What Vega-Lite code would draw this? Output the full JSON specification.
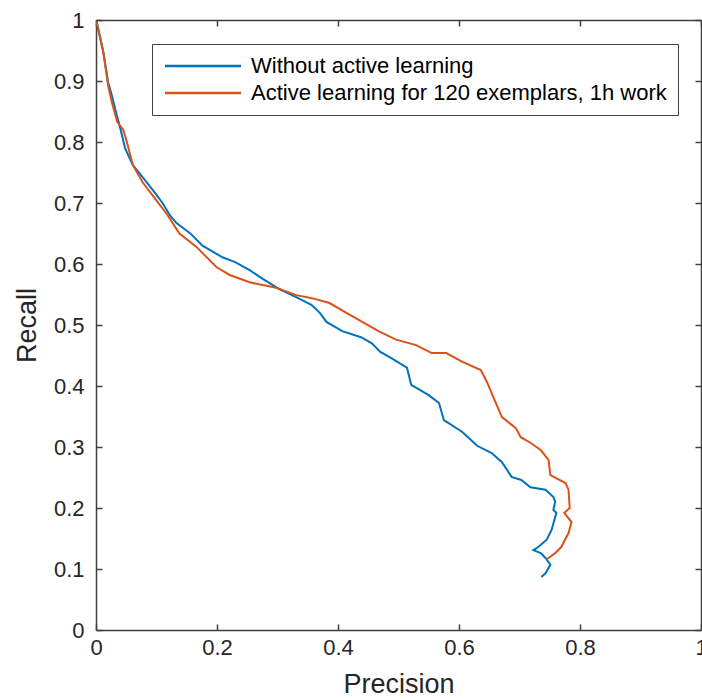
{
  "$schema": "https://vega.github.io/schema/vega-lite/v6.json",
  "width": 605,
  "height": 610,
  "autosize": "none",
  "padding": {"left": 96, "top": 20, "right": 1, "bottom": 69},
  "background": "white",
  "config": {"view": {"stroke": null}, "font": "Liberation Sans"},
  "data": {"values": [
    {"series": "Without active learning", "i": 1, "precision": 0.001, "recall": 0.997},
    {"series": "Without active learning", "i": 2, "precision": 0.012, "recall": 0.948},
    {"series": "Without active learning", "i": 3, "precision": 0.020, "recall": 0.898},
    {"series": "Without active learning", "i": 4, "precision": 0.026, "recall": 0.877},
    {"series": "Without active learning", "i": 5, "precision": 0.033, "recall": 0.849},
    {"series": "Without active learning", "i": 6, "precision": 0.040, "recall": 0.823},
    {"series": "Without active learning", "i": 7, "precision": 0.048, "recall": 0.790},
    {"series": "Without active learning", "i": 8, "precision": 0.061, "recall": 0.762},
    {"series": "Without active learning", "i": 9, "precision": 0.075, "recall": 0.745},
    {"series": "Without active learning", "i": 10, "precision": 0.094, "recall": 0.721},
    {"series": "Without active learning", "i": 11, "precision": 0.110, "recall": 0.700},
    {"series": "Without active learning", "i": 12, "precision": 0.122, "recall": 0.680},
    {"series": "Without active learning", "i": 13, "precision": 0.133, "recall": 0.667},
    {"series": "Without active learning", "i": 14, "precision": 0.155, "recall": 0.651},
    {"series": "Without active learning", "i": 15, "precision": 0.176, "recall": 0.630},
    {"series": "Without active learning", "i": 16, "precision": 0.209, "recall": 0.611},
    {"series": "Without active learning", "i": 17, "precision": 0.230, "recall": 0.603},
    {"series": "Without active learning", "i": 18, "precision": 0.254, "recall": 0.590},
    {"series": "Without active learning", "i": 19, "precision": 0.275, "recall": 0.576},
    {"series": "Without active learning", "i": 20, "precision": 0.303, "recall": 0.559},
    {"series": "Without active learning", "i": 21, "precision": 0.330, "recall": 0.546},
    {"series": "Without active learning", "i": 22, "precision": 0.356, "recall": 0.533},
    {"series": "Without active learning", "i": 23, "precision": 0.370, "recall": 0.520},
    {"series": "Without active learning", "i": 24, "precision": 0.381, "recall": 0.505},
    {"series": "Without active learning", "i": 25, "precision": 0.407, "recall": 0.490},
    {"series": "Without active learning", "i": 26, "precision": 0.438, "recall": 0.480},
    {"series": "Without active learning", "i": 27, "precision": 0.456, "recall": 0.470},
    {"series": "Without active learning", "i": 28, "precision": 0.470, "recall": 0.456},
    {"series": "Without active learning", "i": 29, "precision": 0.484, "recall": 0.448},
    {"series": "Without active learning", "i": 30, "precision": 0.514, "recall": 0.430},
    {"series": "Without active learning", "i": 31, "precision": 0.521, "recall": 0.402},
    {"series": "Without active learning", "i": 32, "precision": 0.550, "recall": 0.385},
    {"series": "Without active learning", "i": 33, "precision": 0.567, "recall": 0.372},
    {"series": "Without active learning", "i": 34, "precision": 0.575, "recall": 0.344},
    {"series": "Without active learning", "i": 35, "precision": 0.605, "recall": 0.325},
    {"series": "Without active learning", "i": 36, "precision": 0.630, "recall": 0.302},
    {"series": "Without active learning", "i": 37, "precision": 0.654, "recall": 0.290},
    {"series": "Without active learning", "i": 38, "precision": 0.671, "recall": 0.275},
    {"series": "Without active learning", "i": 39, "precision": 0.687, "recall": 0.251},
    {"series": "Without active learning", "i": 40, "precision": 0.703, "recall": 0.246},
    {"series": "Without active learning", "i": 41, "precision": 0.718, "recall": 0.234},
    {"series": "Without active learning", "i": 42, "precision": 0.743, "recall": 0.230},
    {"series": "Without active learning", "i": 43, "precision": 0.756, "recall": 0.218},
    {"series": "Without active learning", "i": 44, "precision": 0.759, "recall": 0.210},
    {"series": "Without active learning", "i": 45, "precision": 0.756, "recall": 0.197},
    {"series": "Without active learning", "i": 46, "precision": 0.761, "recall": 0.192},
    {"series": "Without active learning", "i": 47, "precision": 0.753, "recall": 0.164},
    {"series": "Without active learning", "i": 48, "precision": 0.745, "recall": 0.148},
    {"series": "Without active learning", "i": 49, "precision": 0.731, "recall": 0.136},
    {"series": "Without active learning", "i": 50, "precision": 0.723, "recall": 0.131},
    {"series": "Without active learning", "i": 51, "precision": 0.735, "recall": 0.126},
    {"series": "Without active learning", "i": 52, "precision": 0.743, "recall": 0.118},
    {"series": "Without active learning", "i": 53, "precision": 0.751, "recall": 0.107},
    {"series": "Without active learning", "i": 54, "precision": 0.743, "recall": 0.093},
    {"series": "Without active learning", "i": 55, "precision": 0.736, "recall": 0.087},
    {"series": "Active learning for 120 exemplars, 1h work", "i": 1, "precision": 0.001, "recall": 0.997},
    {"series": "Active learning for 120 exemplars, 1h work", "i": 2, "precision": 0.012, "recall": 0.948},
    {"series": "Active learning for 120 exemplars, 1h work", "i": 3, "precision": 0.020, "recall": 0.893},
    {"series": "Active learning for 120 exemplars, 1h work", "i": 4, "precision": 0.026, "recall": 0.866},
    {"series": "Active learning for 120 exemplars, 1h work", "i": 5, "precision": 0.035, "recall": 0.833},
    {"series": "Active learning for 120 exemplars, 1h work", "i": 6, "precision": 0.045, "recall": 0.820},
    {"series": "Active learning for 120 exemplars, 1h work", "i": 7, "precision": 0.051, "recall": 0.800},
    {"series": "Active learning for 120 exemplars, 1h work", "i": 8, "precision": 0.061, "recall": 0.762},
    {"series": "Active learning for 120 exemplars, 1h work", "i": 9, "precision": 0.077, "recall": 0.734},
    {"series": "Active learning for 120 exemplars, 1h work", "i": 10, "precision": 0.097, "recall": 0.708},
    {"series": "Active learning for 120 exemplars, 1h work", "i": 11, "precision": 0.117, "recall": 0.682},
    {"series": "Active learning for 120 exemplars, 1h work", "i": 12, "precision": 0.138, "recall": 0.650},
    {"series": "Active learning for 120 exemplars, 1h work", "i": 13, "precision": 0.166, "recall": 0.628},
    {"series": "Active learning for 120 exemplars, 1h work", "i": 14, "precision": 0.199, "recall": 0.595},
    {"series": "Active learning for 120 exemplars, 1h work", "i": 15, "precision": 0.221, "recall": 0.582},
    {"series": "Active learning for 120 exemplars, 1h work", "i": 16, "precision": 0.254, "recall": 0.570},
    {"series": "Active learning for 120 exemplars, 1h work", "i": 17, "precision": 0.298, "recall": 0.561},
    {"series": "Active learning for 120 exemplars, 1h work", "i": 18, "precision": 0.331, "recall": 0.549},
    {"series": "Active learning for 120 exemplars, 1h work", "i": 19, "precision": 0.357, "recall": 0.544},
    {"series": "Active learning for 120 exemplars, 1h work", "i": 20, "precision": 0.386, "recall": 0.536},
    {"series": "Active learning for 120 exemplars, 1h work", "i": 21, "precision": 0.414, "recall": 0.520},
    {"series": "Active learning for 120 exemplars, 1h work", "i": 22, "precision": 0.440, "recall": 0.505},
    {"series": "Active learning for 120 exemplars, 1h work", "i": 23, "precision": 0.467, "recall": 0.490},
    {"series": "Active learning for 120 exemplars, 1h work", "i": 24, "precision": 0.496, "recall": 0.476},
    {"series": "Active learning for 120 exemplars, 1h work", "i": 25, "precision": 0.529, "recall": 0.467},
    {"series": "Active learning for 120 exemplars, 1h work", "i": 26, "precision": 0.555, "recall": 0.454},
    {"series": "Active learning for 120 exemplars, 1h work", "i": 27, "precision": 0.579, "recall": 0.454},
    {"series": "Active learning for 120 exemplars, 1h work", "i": 28, "precision": 0.605, "recall": 0.440},
    {"series": "Active learning for 120 exemplars, 1h work", "i": 29, "precision": 0.636, "recall": 0.426},
    {"series": "Active learning for 120 exemplars, 1h work", "i": 30, "precision": 0.646, "recall": 0.407},
    {"series": "Active learning for 120 exemplars, 1h work", "i": 31, "precision": 0.661, "recall": 0.372},
    {"series": "Active learning for 120 exemplars, 1h work", "i": 32, "precision": 0.671, "recall": 0.349},
    {"series": "Active learning for 120 exemplars, 1h work", "i": 33, "precision": 0.694, "recall": 0.331},
    {"series": "Active learning for 120 exemplars, 1h work", "i": 34, "precision": 0.702, "recall": 0.316},
    {"series": "Active learning for 120 exemplars, 1h work", "i": 35, "precision": 0.718, "recall": 0.307},
    {"series": "Active learning for 120 exemplars, 1h work", "i": 36, "precision": 0.735, "recall": 0.295},
    {"series": "Active learning for 120 exemplars, 1h work", "i": 37, "precision": 0.748, "recall": 0.279},
    {"series": "Active learning for 120 exemplars, 1h work", "i": 38, "precision": 0.751, "recall": 0.254},
    {"series": "Active learning for 120 exemplars, 1h work", "i": 39, "precision": 0.776, "recall": 0.241},
    {"series": "Active learning for 120 exemplars, 1h work", "i": 40, "precision": 0.781, "recall": 0.230},
    {"series": "Active learning for 120 exemplars, 1h work", "i": 41, "precision": 0.783, "recall": 0.200},
    {"series": "Active learning for 120 exemplars, 1h work", "i": 42, "precision": 0.774, "recall": 0.192},
    {"series": "Active learning for 120 exemplars, 1h work", "i": 43, "precision": 0.786, "recall": 0.177},
    {"series": "Active learning for 120 exemplars, 1h work", "i": 44, "precision": 0.781, "recall": 0.159},
    {"series": "Active learning for 120 exemplars, 1h work", "i": 45, "precision": 0.769, "recall": 0.136},
    {"series": "Active learning for 120 exemplars, 1h work", "i": 46, "precision": 0.759, "recall": 0.126},
    {"series": "Active learning for 120 exemplars, 1h work", "i": 47, "precision": 0.745, "recall": 0.116}
  ]},
  "layer": [
    {
      "mark": {"type": "line", "strokeWidth": 2, "clip": true},
      "encoding": {
        "x": {
          "field": "precision", "type": "quantitative",
          "scale": {"domain": [0, 1], "nice": false, "zero": false},
          "axis": {
            "orient": "bottom", "values": [0, 0.2, 0.4, 0.6, 0.8, 1], "format": "~g",
            "title": "Precision", "titleFontSize": 27, "titleFontWeight": "normal", "titleColor": "#262626",
            "titlePadding": 13,
            "labelFontSize": 22, "labelColor": "#262626", "labelPadding": 13, "labelFlush": false,
            "tickSize": -6, "tickColor": "#404040", "tickWidth": 1.5,
            "domainColor": "#404040", "domainWidth": 1.5, "grid": false
          }
        },
        "y": {
          "field": "recall", "type": "quantitative",
          "scale": {"domain": [0, 1], "nice": false, "zero": false},
          "axis": {
            "orient": "left", "values": [0, 0.1, 0.2, 0.3, 0.4, 0.5, 0.6, 0.7, 0.8, 0.9, 1], "format": "~g",
            "title": "Recall", "titleFontSize": 27, "titleFontWeight": "normal", "titleColor": "#262626",
            "titlePadding": 12,
            "labelFontSize": 22, "labelColor": "#262626", "labelPadding": 18, "labelFlush": false,
            "tickSize": -6, "tickColor": "#404040", "tickWidth": 1.5,
            "domainColor": "#404040", "domainWidth": 1.5, "grid": false
          }
        },
        "color": {
          "field": "series", "type": "nominal",
          "scale": {"domain": ["Without active learning", "Active learning for 120 exemplars, 1h work"], "range": ["#0072BD", "#D95319"]},
          "legend": {
            "title": null, "orient": "none", "legendX": 56, "legendY": 24,
            "symbolType": "M-4,0H4", "symbolSize": 361, "symbolStrokeWidth": 2.5, "symbolOffset": 29,
            "labelFontSize": 22, "labelColor": "#000000", "labelOffset": 37, "labelLimit": 0,
            "rowPadding": 5, "padding": 11, "strokeColor": "#404040", "fillColor": "white"
          }
        },
        "order": {"field": "i", "type": "quantitative"}
      }
    },
    {
      "mark": {"type": "line", "opacity": 0},
      "encoding": {
        "x": {
          "field": "precision", "type": "quantitative",
          "axis": {
            "orient": "top", "values": [0, 0.2, 0.4, 0.6, 0.8, 1], "labels": false, "title": null,
            "tickSize": -6, "tickColor": "#404040", "tickWidth": 1.5,
            "domainColor": "#404040", "domainWidth": 1.5, "grid": false
          }
        },
        "y": {
          "field": "recall", "type": "quantitative",
          "axis": {
            "orient": "right", "values": [0, 0.1, 0.2, 0.3, 0.4, 0.5, 0.6, 0.7, 0.8, 0.9, 1], "labels": false, "title": null,
            "tickSize": -6, "tickColor": "#404040", "tickWidth": 1.5,
            "domainColor": "#404040", "domainWidth": 1.5, "grid": false
          }
        },
        "detail": {"field": "series", "type": "nominal"},
        "order": {"field": "i", "type": "quantitative"}
      }
    }
  ],
  "resolve": {"axis": {"x": "independent", "y": "independent"}}
}
